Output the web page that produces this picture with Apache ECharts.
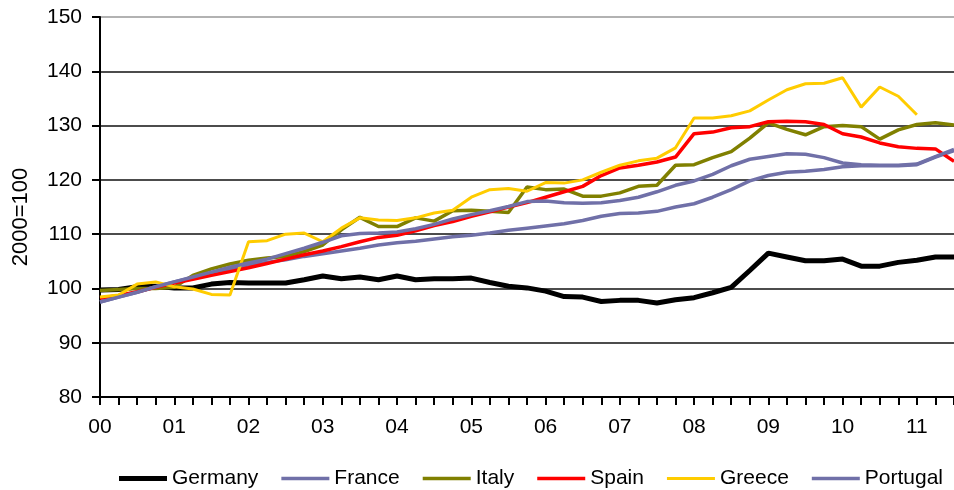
<!DOCTYPE html>
<html>
<head>
<meta charset="utf-8">
<script src="https://cdn.jsdelivr.net/npm/echarts@6/dist/echarts.min.js"></script>
<style>
html,body{margin:0;padding:0;background:#fff;}
#chart{width:954px;height:490px;}
</style>
</head>
<body>
<div id="chart"></div>
<script>
// Year tick labels and quarterly categories (2000 Q1 .. 2011 Q3)
var yearLabels = ['00','01','02','03','04','05','06','07','08','09','10','11'];
var quarterNames = ['Q1','Q2','Q3','Q4'];
var categories = [];
yearLabels.forEach(function (y) { quarterNames.forEach(function (q) { categories.push(y + ' ' + q); }); });
categories = categories.slice(0, 47);

var germany = [99.7, 99.8, 100.3, 100.4, 100.1, 100.1, 100.8, 101.1, 101, 101, 101, 101.6, 102.3, 101.8, 102.1, 101.6, 102.3, 101.6, 101.8, 101.8,
  101.9, 101.1, 100.4, 100.1, 99.5, 98.5, 98.4, 97.6, 97.8, 97.8, 97.3, 97.9, 98.3, 99.2, 100.2, 103.3, 106.5, 105.8, 105.1, 105.1,
  105.4, 104.1, 104.1, 104.8, 105.2, 105.8, 105.8];
var france = [97.5, 98.4, 99.3, 100.3, 101.2, 102, 102.8, 103.6, 104.3, 104.8, 105.3, 105.9, 106.4, 106.9, 107.4, 108, 108.4, 108.7, 109.1, 109.5,
  109.8, 110.2, 110.7, 111.1, 111.5, 111.9, 112.5, 113.3, 113.8, 113.9, 114.2, 115, 115.6, 116.8, 118.2, 119.8, 120.8, 121.4, 121.6, 121.9,
  122.4, 122.6, 122.6, 122.6, 122.8, 124.2, 125.4];
var italy = [99.6, 99.8, 100, 100, 100.2, 102.4, 103.6, 104.5, 105.2, 105.6, 105.9, 106.8, 108, 110.8, 113.1, 111.4, 111.4, 113, 112.4, 114.3,
  114.4, 114.2, 114, 118.7, 118.2, 118.3, 117, 117, 117.6, 118.8, 119, 122.7, 122.8, 124.1, 125.2, 127.7, 130.5, 129.3, 128.3, 129.8,
  130, 129.8, 127.5, 129.2, 130.2, 130.5, 130.1];
var spain = [98.2, 98.7, 99.4, 100.2, 101, 101.7, 102.4, 103.1, 103.8, 104.6, 105.4, 106.2, 106.9, 107.7, 108.6, 109.4, 109.8, 110.6, 111.6, 112.3,
  113.3, 114.1, 115, 115.8, 116.8, 117.8, 118.8, 120.8, 122.2, 122.7, 123.3, 124.2, 128.5, 128.8, 129.6, 129.8, 130.7, 130.8, 130.7, 130.2,
  128.5, 127.9, 126.8, 126.1, 125.8, 125.7, 123.4];
var greece = [98.4, 98.8, 100.8, 101.2, 100.3, 99.9, 98.9, 98.8, 108.6, 108.8, 110, 110.2, 108.6, 111.1, 113, 112.6, 112.5, 113, 113.9, 114.4,
  116.8, 118.2, 118.4, 117.9, 119.5, 119.4, 120, 121.4, 122.7, 123.5, 124, 125.9, 131.4, 131.4, 131.8, 132.7, 134.7, 136.6, 137.7, 137.8,
  138.8, 133.4, 137.1, 135.4, 132, null, null];
var portugal = [97.5, 98.4, 99.3, 100.3, 101.2, 102.1, 103, 103.9, 104.7, 105.4, 106.4, 107.4, 108.5, 109.7, 110.1, 110.2, 110.4, 111, 111.8, 112.8,
  113.6, 114.3, 115.1, 116, 116.1, 115.8, 115.7, 115.8, 116.2, 116.8, 117.8, 119, 119.8, 121, 122.6, 123.8, 124.3, 124.8, 124.7, 124.1,
  123.1, 122.8, 122.7, 122.7, 122.9, 124.3, 125.6];

var seriesNames = ['Germany', 'France', 'Italy', 'Spain', 'Greece', 'Portugal'];
var seriesData = [germany, france, italy, spain, greece, portugal];
var seriesColors = ['#000000', '#7070A8', '#808000', '#FF0000', '#FFCC00', '#7070A8'];
var seriesWidths = [5, 3.5, 3.5, 3.5, 3, 3.5];

var chart = echarts.init(document.getElementById('chart'), null, {renderer: 'canvas'});
var font = '"Liberation Sans", Arial, sans-serif';

chart.setOption({
  animation: false,
  backgroundColor: '#ffffff',
  grid: {left: 100, top: 17, width: 864, height: 380, containLabel: false},
  legend: {
    left: 114, top: 463, width: 880,
    orient: 'horizontal',
    itemWidth: 48, itemHeight: 22, itemGap: 23,
    symbolKeepAspect: true,
    textStyle: {fontFamily: font, fontSize: 21, color: '#000'},
    data: seriesNames.map(function (n, i) {
      var h = seriesWidths[i];
      return {
        name: n,
        icon: 'path://M0,0 L48,0 L48,' + h + ' L0,' + h + ' Z',
        itemStyle: {color: seriesColors[i], borderWidth: 0}
      };
    })
  },
  xAxis: {
    type: 'category',
    data: categories,
    boundaryGap: false,
    axisLine: {lineStyle: {color: '#000', width: 2}},
    axisTick: {show: true, interval: 0, length: 8, lineStyle: {color: '#000', width: 2}},
    axisLabel: {
      interval: 3, margin: 20,
      fontFamily: font, fontSize: 21, color: '#000',
      formatter: function (v) { return v.split(' ')[0]; }
    },
    splitLine: {show: false}
  },
  yAxis: {
    type: 'value',
    min: 80, max: 150, interval: 10,
    name: '2000=100',
    nameLocation: 'middle',
    nameGap: 68,
    nameRotate: 90,
    nameTextStyle: {fontFamily: font, fontSize: 22, color: '#000', padding: [0, 20, 0, 0]},
    axisLine: {show: true, lineStyle: {color: '#000', width: 2}},
    axisTick: {show: true, length: 8, lineStyle: {color: '#000', width: 2}},
    axisLabel: {margin: 18, fontFamily: font, fontSize: 21, color: '#000'},
    splitLine: {show: true, lineStyle: {color: ['#000', '#111', '#111', '#111', '#111', '#111', '#111', '#999'], width: 1.6}}
  },
  series: seriesNames.map(function (n, i) {
    return {
      name: n,
      type: 'line',
      data: seriesData[i],
      showSymbol: false,
      symbol: 'none',
      connectNulls: false,
      lineStyle: {color: seriesColors[i], width: seriesWidths[i]},
      itemStyle: {color: seriesColors[i]}
    };
  })
});
</script>
</body>
</html>
